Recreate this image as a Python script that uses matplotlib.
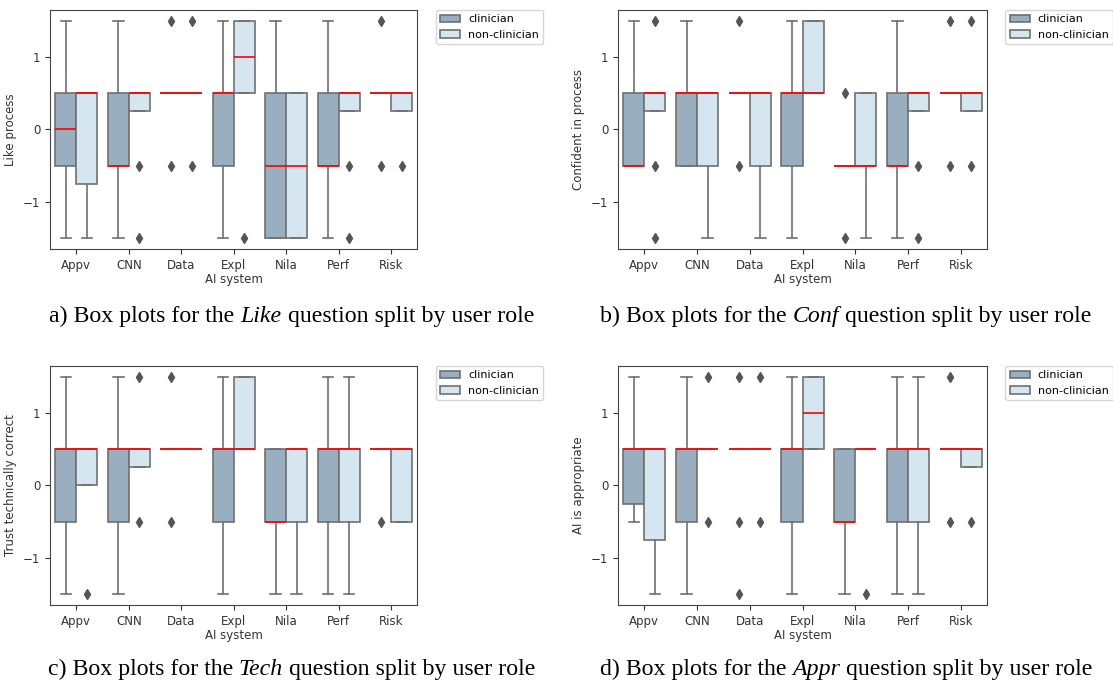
import matplotlib.pyplot as plt
import numpy as np

systems = ["Appv", "CNN", "Data", "Expl", "Nila", "Perf", "Risk"]
roles = ["clinician", "non-clinician"]

# five-number summaries per system: (whislo, q1, med, q3, whishi)
like_clin = [(-1.5, -0.5, 0.0, 0.5, 1.5), (-1.5, -0.5, -0.5, 0.5, 1.5), (0.5, 0.5, 0.5, 0.5, 0.5),
             (-1.5, -0.5, 0.5, 0.5, 1.5), (-1.5, -1.5, -0.5, 0.5, 1.5), (-1.5, -0.5, -0.5, 0.5, 1.5),
             (0.5, 0.5, 0.5, 0.5, 0.5)]
like_non = [(-1.5, -0.75, 0.5, 0.5, 0.5), (0.25, 0.25, 0.5, 0.5, 0.5), (0.5, 0.5, 0.5, 0.5, 0.5),
            (0.5, 0.5, 1.0, 1.5, 1.5), (-1.5, -1.5, -0.5, 0.5, 0.5), (0.25, 0.25, 0.5, 0.5, 0.5),
            (0.25, 0.25, 0.5, 0.5, 0.5)]
like_clin_out = [[], [], [1.5, -0.5], [], [], [], [1.5, -0.5]]
like_non_out = [[], [-0.5, -1.5], [1.5, -0.5], [-1.5], [], [-0.5, -1.5], [-0.5]]

conf_clin = [(-0.5, -0.5, -0.5, 0.5, 1.5), (-0.5, -0.5, 0.5, 0.5, 1.5), (0.5, 0.5, 0.5, 0.5, 0.5),
             (-1.5, -0.5, 0.5, 0.5, 1.5), (-0.5, -0.5, -0.5, -0.5, -0.5), (-1.5, -0.5, -0.5, 0.5, 1.5),
             (0.5, 0.5, 0.5, 0.5, 0.5)]
conf_non = [(0.25, 0.25, 0.5, 0.5, 0.5), (-1.5, -0.5, 0.5, 0.5, 0.5), (-1.5, -0.5, 0.5, 0.5, 0.5),
            (0.5, 0.5, 0.5, 1.5, 1.5), (-1.5, -0.5, -0.5, 0.5, 0.5), (0.25, 0.25, 0.5, 0.5, 0.5),
            (0.25, 0.25, 0.5, 0.5, 0.5)]
conf_clin_out = [[], [], [1.5, -0.5], [], [0.5, -1.5], [], [1.5, -0.5]]
conf_non_out = [[1.5, -0.5, -1.5], [], [], [], [], [-0.5, -1.5], [1.5, -0.5]]

tech_clin = [(-1.5, -0.5, 0.5, 0.5, 1.5), (-1.5, -0.5, 0.5, 0.5, 1.5), (0.5, 0.5, 0.5, 0.5, 0.5),
             (-1.5, -0.5, 0.5, 0.5, 1.5), (-1.5, -0.5, -0.5, 0.5, 0.5), (-1.5, -0.5, 0.5, 0.5, 1.5),
             (0.5, 0.5, 0.5, 0.5, 0.5)]
tech_non = [(0.0, 0.0, 0.5, 0.5, 0.5), (0.25, 0.25, 0.5, 0.5, 0.5), (0.5, 0.5, 0.5, 0.5, 0.5),
            (0.5, 0.5, 0.5, 1.5, 1.5), (-1.5, -0.5, 0.5, 0.5, 0.5), (-1.5, -0.5, 0.5, 0.5, 1.5),
            (-0.5, -0.5, 0.5, 0.5, 0.5)]
tech_clin_out = [[], [], [1.5, -0.5], [], [], [], [-0.5]]
tech_non_out = [[-1.5], [1.5, -0.5], [], [], [], [], []]

appr_clin = [(-0.5, -0.25, 0.5, 0.5, 1.5), (-1.5, -0.5, 0.5, 0.5, 1.5), (0.5, 0.5, 0.5, 0.5, 0.5),
             (-1.5, -0.5, 0.5, 0.5, 1.5), (-1.5, -0.5, -0.5, 0.5, 0.5), (-1.5, -0.5, 0.5, 0.5, 1.5),
             (0.5, 0.5, 0.5, 0.5, 0.5)]
appr_non = [(-1.5, -0.75, 0.5, 0.5, 0.5), (0.5, 0.5, 0.5, 0.5, 0.5), (0.5, 0.5, 0.5, 0.5, 0.5),
            (0.5, 0.5, 1.0, 1.5, 1.5), (0.5, 0.5, 0.5, 0.5, 0.5), (-1.5, -0.5, 0.5, 0.5, 1.5),
            (0.25, 0.25, 0.5, 0.5, 0.5)]
appr_clin_out = [[], [], [1.5, -0.5, -1.5], [], [], [], [1.5, -0.5]]
appr_non_out = [[], [1.5, -0.5], [1.5, -0.5], [], [-1.5], [], [-0.5]]

ylabels = ["Like process", "Confident in process", "Trust technically correct", "AI is appropriate"]
captions = [("a) Box plots for the ", "Like", " question split by user role"),
            ("b) Box plots for the ", "Conf", " question split by user role"),
            ("c) Box plots for the ", "Tech", " question split by user role"),
            ("d) Box plots for the ", "Appr", " question split by user role")]

colors = ["#99afbf", "#d6e6f1"]
edge = "#707070"

panels = [(like_clin, like_non, like_clin_out, like_non_out),
          (conf_clin, conf_non, conf_clin_out, conf_non_out),
          (tech_clin, tech_non, tech_clin_out, tech_non_out),
          (appr_clin, appr_non, appr_clin_out, appr_non_out)]

fig = plt.figure(figsize=(11.13, 6.85), dpi=100)
axes_rects = [[0.045, 0.6365, 0.33, 0.349], [0.5553, 0.6365, 0.3315, 0.349],
              [0.045, 0.1168, 0.33, 0.349], [0.5553, 0.1168, 0.3315, 0.349]]


def make_stats(summary, outliers):
    stats = []
    for (lo, q1, med, q3, hi), fl in zip(summary, outliers):
        stats.append(dict(whislo=lo, q1=q1, med=med, q3=q3, whishi=hi, fliers=fl))
    return stats


for k, (clin, non, clin_out, non_out) in enumerate(panels):
    ax = fig.add_axes(axes_rects[k])
    x = np.arange(len(systems))
    handles = []
    for r, (summ, outl) in enumerate([(clin, clin_out), (non, non_out)]):
        pos = x + (-0.2 if r == 0 else 0.2)
        bp = ax.bxp(make_stats(summ, outl), positions=pos, widths=0.4, patch_artist=True,
                    manage_ticks=False,
                    boxprops=dict(facecolor=colors[r], edgecolor=edge, linewidth=1.2),
                    whiskerprops=dict(color=edge, linewidth=1.2),
                    capprops=dict(color=edge, linewidth=1.2),
                    medianprops=dict(color="red", linewidth=1.2, zorder=4),
                    flierprops=dict(marker="d", markerfacecolor="#555555",
                                    markeredgecolor="#555555", markersize=5.5))
        handles.append(bp["boxes"][0])
    ax.set_xlim(-0.5, 6.5)
    ax.set_ylim(-1.65, 1.65)
    ax.set_xticks(x)
    ax.set_xticklabels(systems)
    ax.set_yticks([-1, 0, 1])
    ax.set_yticklabels(["\u22121", "0", "1"])
    ax.tick_params(labelsize=8.5, colors="#333333", length=3.5)
    for s in ax.spines.values():
        s.set_color("#444444")
    ax.set_xlabel("AI system", fontsize=8.5, labelpad=1, color="#333333")
    ax.set_ylabel(ylabels[k], fontsize=8.5, color="#333333")
    ax.legend(handles, roles, loc="upper left", bbox_to_anchor=(1.05, 1.0),
              fontsize=8, borderaxespad=0, handlelength=1.8, handletextpad=0.7)

# captions with the question name in italics
fig.canvas.draw()
renderer = fig.canvas.get_renderer()
cap_pos = [(0.262, 0.53), (0.76, 0.53), (0.262, 0.0146), (0.76, 0.0146)]
for (pre, ital, post), (cx, cy) in zip(captions, cap_pos):
    parts = []
    for txt, style in [(pre, "normal"), (ital, "italic"), (post, "normal")]:
        t = fig.text(0, cy, txt, family="Liberation Serif", style=style, fontsize=17.2,
                     va="baseline", ha="left")
        parts.append(t)
    widths = [p.get_window_extent(renderer).width / fig.bbox.width for p in parts]
    start = cx - sum(widths) / 2
    for p, w in zip(parts, widths):
        p.set_x(start)
        start += w

fig.savefig("out.png", dpi=100)
